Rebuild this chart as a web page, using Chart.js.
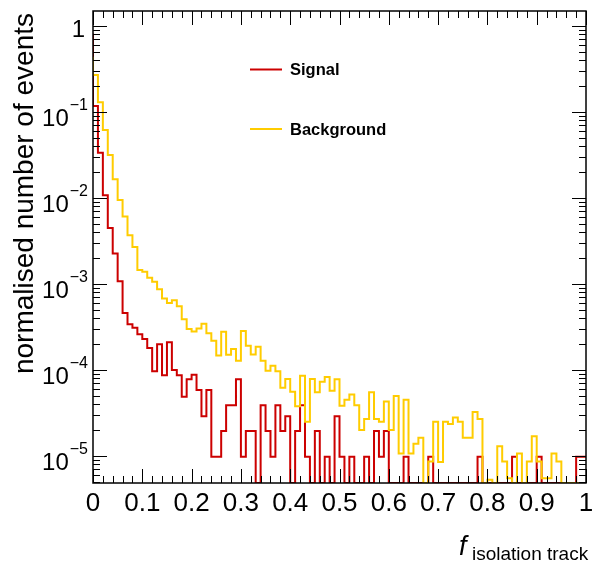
<!DOCTYPE html>
<html>
<head>
<meta charset="utf-8">
<script src="https://cdn.jsdelivr.net/npm/chart.js@4"></script>
<style>
  html, body { margin: 0; padding: 0; background: #fff; }
  canvas { display: block; }
</style>
</head>
<body>
<canvas id="chart" width="593" height="563"></canvas>
<script>
// Histogram binning: 100 bins between 0 and 1
const binLow = 0;
const binWidth = 0.01;

// normalised number of events per bin (0 = empty bin)
const signalValues = [
    0.82, 0.118, 0.0336, 0.0108, 0.0045, 0.00227, 0.00108, 4.6e-4, 3.4e-4, 3.1e-4,
    2.6e-4, 2.3e-4, 1.8e-4, 9.7e-5, 2.0e-4, 8.7e-5, 2.1e-4, 1.0e-4, 8.7e-5, 4.9e-5,
    7.8e-5, 8.8e-5, 5.85e-5, 2.9e-5, 5.85e-5, 9.8e-6, 9.8e-6, 1.95e-5, 3.9e-5, 3.9e-5,
    7.8e-5, 9.8e-6, 1.95e-5, 1.95e-5, 0, 3.9e-5, 1.95e-5, 9.8e-6, 3.9e-5, 1.95e-5,
    2.9e-5, 0, 1.95e-5, 3.9e-5, 9.8e-6, 0, 1.95e-5, 0, 9.8e-6, 0,
    2.9e-5, 9.8e-6, 0, 9.8e-6, 0, 0, 9.8e-6, 0, 1.95e-5, 9.8e-6,
    1.95e-5, 0, 0, 0, 9.8e-6, 0, 0, 0, 0, 9.8e-6,
    0, 0, 0, 0, 0, 0, 0, 0, 0, 9.8e-6,
    0, 0, 0, 0, 0, 0, 9.8e-6, 0, 0, 0,
    0, 9.8e-6, 0, 0, 0, 0, 0, 0, 0, 9.8e-6
];

const backgroundValues = [
    0.44, 0.27, 0.13, 0.062, 0.0316, 0.0166, 0.0095, 0.0061, 0.0037, 0.0027,
    0.00146, 0.00139, 0.00118, 0.00106, 8.7e-4, 6.8e-4, 6.0e-4, 6.5e-4, 5.5e-4, 3.9e-4,
    3.0e-4, 2.8e-4, 3.05e-4, 3.46e-4, 2.67e-4, 2.19e-4, 1.48e-4, 2.79e-4, 1.51e-4, 1.75e-4,
    1.28e-4, 2.84e-4, 1.92e-4, 1.52e-4, 1.87e-4, 1.28e-4, 9.8e-5, 1.12e-4, 9.7e-5, 6.2e-5,
    7.85e-5, 5.6e-5, 3.8e-5, 8.6e-5, 2.5e-5, 7.85e-5, 5.5e-5, 7.3e-5, 8.3e-5, 5.75e-5,
    7.8e-5, 3.85e-5, 4.5e-5, 5.2e-5, 3.9e-5, 2.0e-5, 2.7e-5, 5.5e-5, 2.7e-5, 2.5e-5,
    4.3e-5, 2.0e-5, 5.0e-5, 1.07e-5, 4.5e-5, 1.07e-5, 1.39e-5, 1.63e-5, 0, 8.6e-6,
    2.5e-5, 8.5e-6, 2.5e-5, 2.35e-5, 2.8e-5, 2.5e-5, 1.63e-5, 1.63e-5, 3.25e-5, 2.7e-5,
    0, 5.3e-6, 0, 1.3e-5, 8.6e-6, 5.5e-6, 0, 1.07e-5, 0, 8.6e-6,
    1.7e-5, 8.6e-6, 5.5e-6, 5.5e-6, 1.07e-5, 8.6e-6, 0, 0, 0, 0
];

const seriesNames = ['Signal', 'Background'];
const seriesColors = ['#cc0000', '#ffcc00'];

// axis ticks
const xTickValues = [0, 0.1, 0.2, 0.3, 0.4, 0.5, 0.6, 0.7, 0.8, 0.9, 1];
const xTickLabels = ['0', '0.1', '0.2', '0.3', '0.4', '0.5', '0.6', '0.7', '0.8', '0.9', '1'];
const yTickExponents = [0, -1, -2, -3, -4, -5];

const yMin = 4.85e-6;
const yMax = 1.5;

// turn bin contents into step points (empty bins sit on the frame bottom like in ROOT)
function histPoints(values) {
    const pts = values.map((v, i) => ({ x: binLow + i * binWidth, y: v > 0 ? v : yMin }));
    const last = pts[pts.length - 1];
    pts.push({ x: binLow + values.length * binWidth, y: last.y });
    return pts;
}

const FONT = '"Liberation Sans", Arial, Helvetica, sans-serif';

// draws the ROOT-like frame, ticks, labels, titles and legend
const rootStyle = {
    id: 'rootStyle',
    afterDraw(chart) {
        const ctx = chart.ctx;
        const area = chart.chartArea;
        const xs = chart.scales.x;
        const ys = chart.scales.y;

        ctx.save();
        ctx.strokeStyle = '#000';
        ctx.fillStyle = '#000';
        ctx.lineWidth = 1.5;
        ctx.strokeRect(area.left, area.top, area.right - area.left, area.bottom - area.top);

        // x ticks, every 0.02, major every 0.1
        ctx.lineWidth = 1;
        ctx.beginPath();
        for (let i = 0; i <= 50; i++) {
            const px = Math.round(xs.getPixelForValue(i * 0.02)) + 0.5;
            const len = i % 5 === 0 ? 14 : 7;
            ctx.moveTo(px, area.bottom);
            ctx.lineTo(px, area.bottom - len);
            ctx.moveTo(px, area.top);
            ctx.lineTo(px, area.top + len);
        }
        // y ticks, log decades with 2..9 minors
        for (let e = -6; e <= 0; e++) {
            for (let m = 1; m <= 9; m++) {
                const v = m * Math.pow(10, e);
                if (v < yMin || v > yMax) continue;
                const py = Math.round(ys.getPixelForValue(v)) + 0.5;
                const len = m === 1 ? 14 : 7;
                ctx.moveTo(area.left, py);
                ctx.lineTo(area.left + len, py);
                ctx.moveTo(area.right, py);
                ctx.lineTo(area.right - len, py);
            }
        }
        ctx.stroke();

        // x tick labels
        ctx.font = '26px ' + FONT;
        ctx.textAlign = 'center';
        ctx.textBaseline = 'alphabetic';
        xTickValues.forEach((v, i) => {
            ctx.fillText(xTickLabels[i], xs.getPixelForValue(v), area.bottom + 28);
        });

        // y tick labels: 1, 10^-n
        const labelRight = area.left - 5;
        yTickExponents.forEach(e => {
            const py = ys.getPixelForValue(Math.pow(10, e));
            ctx.textAlign = 'right';
            if (e === 0) {
                ctx.font = '24px ' + FONT;
                ctx.fillText('1', labelRight - 3, py + 11);
                return;
            }
            const expText = '\u2212' + (-e);
            ctx.font = '16px ' + FONT;
            const expW = ctx.measureText(expText).width;
            ctx.fillText(expText, labelRight, py - 2);
            ctx.font = '24px ' + FONT;
            ctx.fillText('10', labelRight - expW - 1, py + 14);
        });

        // y title
        ctx.save();
        ctx.translate(33, area.top + 2);
        ctx.rotate(-Math.PI / 2);
        ctx.font = '28px ' + FONT;
        ctx.textAlign = 'right';
        ctx.fillText('normalised number of events', 0, 0);
        ctx.restore();

        // x title f_{isolation track}
        ctx.textAlign = 'left';
        ctx.font = 'italic 27px ' + FONT;
        ctx.fillText('f', 459, 555);
        ctx.font = '19px ' + FONT;
        ctx.fillText('isolation track', 472, 560);

        // legend
        const legendRows = [69.5, 129];
        ctx.font = 'bold 16.5px ' + FONT;
        ctx.textBaseline = 'middle';
        seriesNames.forEach((name, i) => {
            ctx.strokeStyle = seriesColors[i];
            ctx.lineWidth = 2;
            ctx.beginPath();
            ctx.moveTo(250, legendRows[i]);
            ctx.lineTo(282, legendRows[i]);
            ctx.stroke();
            ctx.fillStyle = '#000';
            ctx.fillText(name, 290, legendRows[i] + 1);
        });
        ctx.restore();
    }
};

const canvas = document.getElementById('chart');

new Chart(canvas, {
    type: 'line',
    data: {
        datasets: [
            {
                label: seriesNames[0],
                data: histPoints(signalValues),
                borderColor: seriesColors[0],
                borderWidth: 2,
                stepped: 'after',
                pointRadius: 0,
                fill: false,
                order: 1
            },
            {
                label: seriesNames[1],
                data: histPoints(backgroundValues),
                borderColor: seriesColors[1],
                borderWidth: 2,
                stepped: 'after',
                pointRadius: 0,
                fill: false,
                order: 0
            }
        ]
    },
    options: {
        responsive: false,
        animation: false,
        events: [],
        layout: {
            padding: { left: 93, top: 11, right: 7, bottom: 80 }
        },
        scales: {
            x: { type: 'linear', min: 0, max: 1, display: false },
            y: { type: 'logarithmic', min: yMin, max: yMax, display: false }
        },
        plugins: {
            legend: { display: false },
            tooltip: { enabled: false }
        }
    },
    plugins: [rootStyle]
});
</script>
</body>
</html>
